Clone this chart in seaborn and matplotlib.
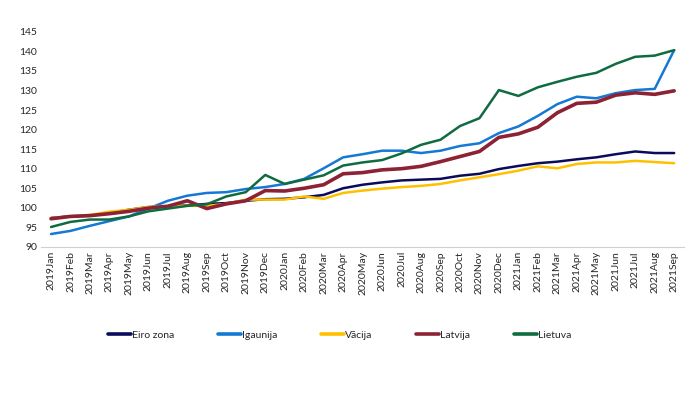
import pandas as pd
import matplotlib.pyplot as plt
import seaborn as sns

# Month labels (x categories)
months = [f"{y}{m}" for y in (2019, 2020, 2021)
          for m in ["Jan", "Feb", "Mar", "Apr", "May", "Jun",
                    "Jul", "Aug", "Sep", "Oct", "Nov", "Dec"]][:33]

# Index values
eiro_zona = [97.4, 97.8, 98.0, 98.7, 99.5, 100.2, 100.4, 100.6, 101.0, 101.2, 101.8, 102.2,
             102.3, 102.7, 103.3, 105.0, 105.9, 106.5, 107.0, 107.2, 107.4, 108.2, 108.7, 109.9,
             110.7, 111.4, 111.8, 112.4, 112.9, 113.7, 114.4, 114.0, 114.0]
igaunija = [93.3, 94.1, 95.4, 96.6, 97.8, 99.8, 101.8, 103.1, 103.8, 104.0, 104.8, 105.3,
            106.1, 107.4, 110.1, 112.9, 113.7, 114.6, 114.6, 114.0, 114.6, 115.8, 116.5, 119.1,
            120.8, 123.5, 126.5, 128.4, 128.0, 129.3, 130.1, 130.4, 140.3]
vacija = [97.4, 97.8, 98.2, 99.0, 99.5, 100.2, 100.4, 100.5, 100.5, 101.0, 102.1, 102.1,
          102.1, 102.9, 102.3, 103.8, 104.4, 104.9, 105.3, 105.6, 106.1, 107.0, 107.8, 108.6,
          109.5, 110.6, 110.1, 111.2, 111.6, 111.6, 112.0, 111.7, 111.4]
latvija = [97.2, 97.8, 98.0, 98.5, 99.1, 99.9, 100.4, 101.8, 99.8, 101.0, 101.8, 104.4,
           104.3, 105.0, 105.9, 108.7, 109.0, 109.7, 110.0, 110.6, 111.8, 113.1, 114.4, 118.0,
           118.9, 120.6, 124.3, 126.7, 127.0, 128.8, 129.4, 129.0, 129.9]
lietuva = [95.1, 96.4, 97.0, 97.0, 97.8, 99.1, 99.8, 100.5, 100.9, 102.9, 104.0, 108.4,
           106.1, 107.2, 108.3, 110.8, 111.6, 112.2, 113.9, 116.1, 117.4, 120.9, 122.9, 130.1,
           128.6, 130.8, 132.2, 133.5, 134.5, 136.8, 138.6, 138.9, 140.3]

series_names = ["Eiro zona", "Igaunija", "Vācija", "Latvija", "Lietuva"]
series_values = [eiro_zona, igaunija, vacija, latvija, lietuva]
colors = ["#0b0b5c", "#1479d4", "#ffc000", "#8c2233", "#0f6b40"]
widths = [1.8, 1.8, 1.8, 2.6, 1.8]

y_ticks = list(range(90, 146, 5))

# long-form table for seaborn
rows = []
for name, vals in zip(series_names, series_values):
    for i, v in enumerate(vals):
        rows.append({"pos": i, "month": months[i], "series": name, "value": v})
df = pd.DataFrame(rows)

sns.set_style("white")
plt.rcParams["font.family"] = ["Lato", "DejaVu Sans"]

fig = plt.figure(figsize=(7.0, 3.97), dpi=100)
ax = fig.add_axes([0.059, 0.378, 0.918, 0.542])

for name, col, lw in zip(series_names, colors, widths):
    sns.lineplot(data=df[df["series"] == name], x="pos", y="value", ax=ax,
                 color=col, linewidth=lw, label=name, sort=False)

ax.set_xlim(-0.5, len(months) - 0.5)
ax.set_ylim(90, 145)
ax.set_yticks(y_ticks)
ax.set_yticklabels([str(t) for t in y_ticks], fontsize=7.5)
ax.set_xticks(range(len(months)))
ax.set_xticklabels(months, rotation=90, fontsize=7.5)
ax.tick_params(axis="both", length=0, pad=3)
ax.set_xlabel("")
ax.set_ylabel("")

for s in ["top", "right", "left"]:
    ax.spines[s].set_visible(False)
ax.spines["bottom"].set_color("#d0d0d0")
ax.spines["bottom"].set_linewidth(0.8)

handles, labels = ax.get_legend_handles_labels()
ax.get_legend().remove()
leg = fig.legend(handles, labels, loc="center", bbox_to_anchor=(0.485, 0.156), ncol=5,
                 frameon=False, fontsize=7.5, handlelength=2.2, handletextpad=0.1,
                 columnspacing=4.2)
for h in leg.get_lines():
    h.set_linewidth(2.6)

fig.savefig("out.png", dpi=100)
